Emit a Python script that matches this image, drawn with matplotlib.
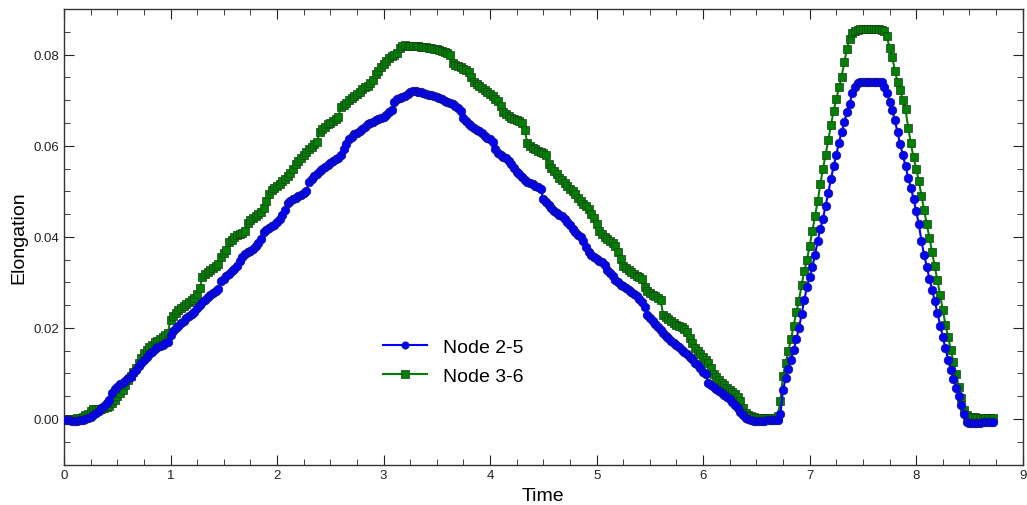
import numpy as np
import matplotlib
matplotlib.use("Agg")
import matplotlib.pyplot as plt
from matplotlib.ticker import MultipleLocator, FormatStrFormatter

plt.rcParams['font.family'] = ['Liberation Sans', 'DejaVu Sans']

t_start = 0.0
t_step = 0.025

node_2_5 = [
    -0.0002, -0.0003, -0.0003, -0.0004, -0.0004, -0.0004, -0.0003, -0.0002, 0.0000, 0.0002,
    0.0004, 0.0008, 0.0013, 0.0018, 0.0024, 0.0029, 0.0034, 0.0042, 0.0058, 0.0066,
    0.0071, 0.0076, 0.0080, 0.0084, 0.0089, 0.0093, 0.0100, 0.0108, 0.0116, 0.0123,
    0.0130, 0.0137, 0.0143, 0.0148, 0.0153, 0.0157, 0.0160, 0.0163, 0.0166, 0.0169,
    0.0185, 0.0194, 0.0199, 0.0204, 0.0211, 0.0216, 0.0221, 0.0226, 0.0231, 0.0236,
    0.0244, 0.0250, 0.0256, 0.0262, 0.0267, 0.0272, 0.0276, 0.0280, 0.0285, 0.0303,
    0.0308, 0.0313, 0.0318, 0.0324, 0.0330, 0.0337, 0.0346, 0.0356, 0.0362, 0.0366,
    0.0369, 0.0373, 0.0380, 0.0387, 0.0395, 0.0410, 0.0415, 0.0419, 0.0423, 0.0426,
    0.0432, 0.0440, 0.0449, 0.0458, 0.0474, 0.0479, 0.0483, 0.0486, 0.0489, 0.0492,
    0.0496, 0.0501, 0.0520, 0.0527, 0.0533, 0.0539, 0.0544, 0.0549, 0.0554, 0.0558,
    0.0562, 0.0566, 0.0570, 0.0574, 0.0580, 0.0593, 0.0603, 0.0615, 0.0620, 0.0625,
    0.0629, 0.0633, 0.0637, 0.0642, 0.0647, 0.0651, 0.0653, 0.0656, 0.0658, 0.0661,
    0.0664, 0.0668, 0.0673, 0.0678, 0.0697, 0.0702, 0.0705, 0.0708, 0.0710, 0.0714,
    0.0718, 0.0721, 0.0720, 0.0718, 0.0717, 0.0716, 0.0714, 0.0712, 0.0711, 0.0709,
    0.0707, 0.0705, 0.0702, 0.0699, 0.0697, 0.0694, 0.0692, 0.0688, 0.0683, 0.0677,
    0.0660, 0.0654, 0.0648, 0.0643, 0.0639, 0.0635, 0.0632, 0.0627, 0.0622, 0.0618,
    0.0614, 0.0609, 0.0592, 0.0585, 0.0580, 0.0576, 0.0572, 0.0567, 0.0561, 0.0552,
    0.0543, 0.0537, 0.0531, 0.0525, 0.0521, 0.0518, 0.0515, 0.0512, 0.0509, 0.0505,
    0.0484, 0.0477, 0.0470, 0.0463, 0.0457, 0.0452, 0.0448, 0.0445, 0.0440, 0.0433,
    0.0425, 0.0418, 0.0411, 0.0405, 0.0399, 0.0390, 0.0378, 0.0367, 0.0361, 0.0356,
    0.0352, 0.0348, 0.0344, 0.0338, 0.0328, 0.0320, 0.0313, 0.0306, 0.0300, 0.0295,
    0.0291, 0.0287, 0.0283, 0.0279, 0.0275, 0.0269, 0.0263, 0.0257, 0.0245, 0.0228,
    0.0222, 0.0215, 0.0208, 0.0201, 0.0195, 0.0189, 0.0183, 0.0177, 0.0172, 0.0167,
    0.0162, 0.0157, 0.0152, 0.0147, 0.0142, 0.0137, 0.0131, 0.0124, 0.0118, 0.0111,
    0.0104, 0.0098, 0.0078, 0.0074, 0.0070, 0.0066, 0.0062, 0.0058, 0.0053, 0.0048,
    0.0043, 0.0037, 0.0031, 0.0024, 0.0016, 0.0009, 0.0003, -0.0001, -0.0003, -0.0004,
    -0.0004, -0.0004, -0.0004, -0.0004, -0.0003, -0.0003, -0.0003, -0.0003, -0.0003, 0.0010,
    0.0063, 0.0090, 0.0110, 0.0130, 0.0152, 0.0175, 0.0200, 0.0230, 0.0262, 0.0290,
    0.0312, 0.0334, 0.0360, 0.0390, 0.0418, 0.0440, 0.0468, 0.0497, 0.0527, 0.0555,
    0.0580, 0.0607, 0.0630, 0.0652, 0.0673, 0.0692, 0.0715, 0.0730, 0.0738, 0.0740,
    0.0741, 0.0741, 0.0741, 0.0740, 0.0741, 0.0740, 0.0740, 0.0739, 0.0730, 0.0715,
    0.0697, 0.0678, 0.0656, 0.0630, 0.0603, 0.0580, 0.0555, 0.0530, 0.0508, 0.0484,
    0.0456, 0.0428, 0.0390, 0.0360, 0.0334, 0.0308, 0.0284, 0.0258, 0.0232, 0.0205,
    0.0180, 0.0155, 0.0130, 0.0108, 0.0088, 0.0068, 0.0050, 0.0030, 0.0010, -0.0007,
    -0.0009, -0.0009, -0.0008, -0.0008, -0.0008, -0.0007, -0.0007, -0.0007, -0.0006, -0.0006,
]

node_3_6 = [
    0.0001, 0.0001, 0.0001, 0.0001, 0.0001, 0.0002, 0.0003, 0.0005, 0.0008, 0.0012,
    0.0018, 0.0021, 0.0021, 0.0022, 0.0023, 0.0024, 0.0026, 0.0028, 0.0035, 0.0042,
    0.0050, 0.0057, 0.0064, 0.0075, 0.0086, 0.0095, 0.0104, 0.0113, 0.0124, 0.0135,
    0.0145, 0.0152, 0.0158, 0.0163, 0.0168, 0.0172, 0.0176, 0.0180, 0.0184, 0.0188,
    0.0218, 0.0226, 0.0233, 0.0239, 0.0244, 0.0249, 0.0253, 0.0257, 0.0261, 0.0266,
    0.0275, 0.0288, 0.0312, 0.0319, 0.0323, 0.0327, 0.0331, 0.0335, 0.0341, 0.0356,
    0.0364, 0.0372, 0.0388, 0.0394, 0.0399, 0.0403, 0.0406, 0.0409, 0.0412, 0.0430,
    0.0436, 0.0441, 0.0445, 0.0450, 0.0455, 0.0463, 0.0478, 0.0495, 0.0503, 0.0508,
    0.0512, 0.0517, 0.0522, 0.0527, 0.0533, 0.0540, 0.0550, 0.0561, 0.0567, 0.0574,
    0.0580, 0.0587, 0.0593, 0.0598, 0.0603, 0.0608, 0.0630, 0.0637, 0.0642, 0.0647,
    0.0651, 0.0655, 0.0659, 0.0663, 0.0686, 0.0690, 0.0694, 0.0700, 0.0705, 0.0710,
    0.0714, 0.0719, 0.0724, 0.0728, 0.0732, 0.0737, 0.0745, 0.0758, 0.0765, 0.0772,
    0.0780, 0.0786, 0.0792, 0.0797, 0.0800, 0.0803, 0.0815, 0.0820, 0.0821, 0.0820,
    0.0820, 0.0819, 0.0819, 0.0818, 0.0817, 0.0816, 0.0816, 0.0815, 0.0814, 0.0813,
    0.0812, 0.0810, 0.0808, 0.0806, 0.0803, 0.0800, 0.0782, 0.0778, 0.0775, 0.0772,
    0.0769, 0.0766, 0.0762, 0.0752, 0.0740, 0.0735, 0.0731, 0.0727, 0.0723, 0.0719,
    0.0714, 0.0709, 0.0703, 0.0698, 0.0688, 0.0674, 0.0669, 0.0665, 0.0662, 0.0659,
    0.0657, 0.0654, 0.0651, 0.0635, 0.0605, 0.0600, 0.0596, 0.0592, 0.0589, 0.0586,
    0.0583, 0.0579, 0.0560, 0.0551, 0.0544, 0.0537, 0.0530, 0.0524, 0.0518, 0.0512,
    0.0506, 0.0501, 0.0494, 0.0486, 0.0479, 0.0473, 0.0468, 0.0460, 0.0451, 0.0442,
    0.0428, 0.0413, 0.0406, 0.0400, 0.0395, 0.0391, 0.0387, 0.0379, 0.0366, 0.0352,
    0.0335, 0.0331, 0.0327, 0.0323, 0.0319, 0.0315, 0.0311, 0.0307, 0.0290, 0.0281,
    0.0277, 0.0273, 0.0269, 0.0266, 0.0262, 0.0229, 0.0224, 0.0219, 0.0215, 0.0211,
    0.0207, 0.0204, 0.0201, 0.0198, 0.0190, 0.0177, 0.0166, 0.0156, 0.0149, 0.0142,
    0.0136, 0.0130, 0.0122, 0.0112, 0.0098, 0.0092, 0.0086, 0.0080, 0.0074, 0.0069,
    0.0064, 0.0059, 0.0054, 0.0049, 0.0040, 0.0025, 0.0014, 0.0009, 0.0006, 0.0004,
    0.0003, 0.0003, 0.0003, 0.0003, 0.0003, 0.0003, 0.0003, 0.0003, 0.0006, 0.0040,
    0.0095, 0.0123, 0.0150, 0.0175, 0.0205, 0.0235, 0.0260, 0.0295, 0.0325, 0.0350,
    0.0380, 0.0412, 0.0445, 0.0478, 0.0515, 0.0550, 0.0580, 0.0613, 0.0645, 0.0677,
    0.0702, 0.0728, 0.0752, 0.0783, 0.0812, 0.0835, 0.0848, 0.0853, 0.0855, 0.0856,
    0.0856, 0.0856, 0.0856, 0.0856, 0.0856, 0.0856, 0.0856, 0.0855, 0.0852, 0.0840,
    0.0815, 0.0795, 0.0765, 0.0740, 0.0722, 0.0700, 0.0680, 0.0640, 0.0605, 0.0575,
    0.0550, 0.0522, 0.0490, 0.0458, 0.0428, 0.0397, 0.0366, 0.0335, 0.0305, 0.0272,
    0.0240, 0.0207, 0.0180, 0.0152, 0.0125, 0.0098, 0.0070, 0.0045, 0.0020, 0.0008,
    0.0005, 0.0004, 0.0004, 0.0003, 0.0003, 0.0003, 0.0002, 0.0002, 0.0002, 0.0002,
]

series_labels = ["Node 2-5", "Node 3-6"]
x_label = "Time"
y_label = "Elongation"

time = t_start + t_step * np.arange(len(node_2_5))

fig = plt.figure(figsize=(10.27, 5.06), dpi=100)
ax = fig.add_axes([0.0623, 0.080, 0.9335, 0.900])

l2, = ax.plot(time, node_3_6, color='#008000', marker='s', markersize=6,
              markeredgecolor='#1a3a1a', markeredgewidth=0.5, linewidth=1.5,
              label=series_labels[1], zorder=2)
l1, = ax.plot(time, node_2_5, color='#0000ff', marker='o', markersize=6.2,
              markeredgecolor='#1a1a6a', markeredgewidth=0.5, linewidth=1.5,
              label=series_labels[0], zorder=3)

ax.set_xlim(0, 9)
ax.set_ylim(-0.01, 0.09)
ax.xaxis.set_major_locator(MultipleLocator(1))
ax.xaxis.set_minor_locator(MultipleLocator(0.25))
ax.yaxis.set_major_locator(MultipleLocator(0.02))
ax.yaxis.set_minor_locator(MultipleLocator(0.005))
ax.yaxis.set_major_formatter(FormatStrFormatter('%.2f'))
ax.tick_params(which='both', direction='in', top=True, right=True,
               labelsize=9.5, colors='#222222')
ax.tick_params(which='major', length=7, width=0.8)
ax.tick_params(which='minor', length=4, width=0.6)
for s in ax.spines.values():
    s.set_linewidth(1.0)
    s.set_color('#333333')

ax.set_xlabel(x_label, fontsize=14, labelpad=4)
ax.set_ylabel(y_label, fontsize=14, labelpad=4)

leg = ax.legend(handles=[l1, l2], loc='center left', bbox_to_anchor=(0.314, 0.226),
                frameon=False, fontsize=14, numpoints=1, handlelength=2.3,
                handletextpad=0.8, labelspacing=0.55, markerscale=0.85)

fig.savefig("out.png", dpi=100)
